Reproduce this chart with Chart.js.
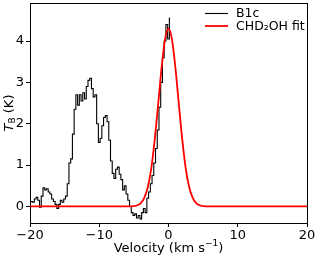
<!DOCTYPE html>
<html>
<head>
<meta charset="utf-8">
<script src="https://cdn.jsdelivr.net/npm/chart.js@4"></script>
<style>
  html, body { margin: 0; padding: 0; background: #fff; }
  #wrap { width: 319px; height: 261px; }
</style>
</head>
<body>
<div id="wrap"><canvas id="spectre"></canvas></div>
<script>
// spectre observé (B1c), pas de 0.25 km/s
const b1cVelocity = [
  -20.00, -19.75, -19.50, -19.25, -19.00, -18.75, -18.50, -18.25, -18.00, -17.75,
  -17.50, -17.25, -17.00, -16.75, -16.50, -16.25, -16.00, -15.75, -15.50, -15.25,
  -15.00, -14.75, -14.50, -14.25, -14.00, -13.75, -13.50, -13.25, -13.00, -12.75,
  -12.50, -12.25, -12.00, -11.75, -11.50, -11.25, -11.00, -10.75, -10.50, -10.25,
  -10.00, -9.75, -9.50, -9.25, -9.00, -8.75, -8.50, -8.25, -8.00, -7.75,
  -7.50, -7.25, -7.00, -6.75, -6.50, -6.25, -6.00, -5.75, -5.50, -5.25,
  -5.00, -4.75, -4.50, -4.25, -4.00, -3.75, -3.50, -3.25, -3.00, -2.75,
  -2.50, -2.25, -2.00, -1.75, -1.50, -1.25, -1.00, -0.75, -0.50, -0.25,
  0.00, 0.25
];
const b1cTemp = [
  0.10, 0.12, 0.10, 0.18, 0.22, 0.15, -0.02, 0.25, 0.45, 0.40,
  0.43, 0.35, 0.30, 0.18, 0.12, 0.05, -0.05, 0.05, 0.15, 0.10,
  0.18, 0.25, 0.55, 1.05, 1.15, 1.75, 2.35, 2.70, 2.45, 2.70,
  2.55, 2.75, 2.60, 2.90, 3.05, 3.10, 2.85, 2.65, 2.70, 2.00,
  1.55, 1.65, 1.95, 2.15, 2.20, 2.05, 1.60, 1.10, 0.80, 0.68,
  0.90, 0.95, 0.78, 0.65, 0.40, 0.50, 0.30, 0.15, 0.00, -0.15,
  -0.22, -0.18, -0.28, -0.22, -0.30, -0.15, -0.05, -0.15, 0.20, 0.35,
  0.55, 0.75, 1.05, 1.40, 1.85, 2.40, 3.00, 3.60, 4.00, 4.40,
  4.05, 4.55
];

// ajustement CHD2OH
const fitVelocity = [-20, -6, -5, -4.5, -4, -3.5, -3, -2.5, -2, -1.5, -1, -0.5, 0,
  0.5, 1, 1.5, 2, 2.5, 3, 3.5, 4, 4.5, 5, 6, 20];
const fitTemp = [0, 0, 0.01, 0.03, 0.08, 0.21, 0.46, 0.91, 1.60, 2.46, 3.35, 4.04, 4.30,
  4.04, 3.35, 2.46, 1.60, 0.91, 0.46, 0.21, 0.08, 0.03, 0.01, 0, 0];

const xTicks = [-20, -10, 0, 10, 20];
const yTicks = [0, 1, 2, 3, 4];
const seriesLabels = ['B1c', 'CHD\u2082OH fit'];

const FONT = 'DejaVu Sans';
const fmt = (v) => String(v).replace('-', '\u2212');

// légende + titres d'axes dessinés à la main
const decorPlugin = {
  id: 'decor',
  afterDraw(chart) {
    const ctx = chart.ctx;
    const area = chart.chartArea;
    ctx.save();
    // légende
    ctx.font = '12.5px ' + FONT;
    ctx.textBaseline = 'middle';
    chart.data.datasets.forEach((ds, i) => {
      const y = 13.5 + i * 12.5;
      ctx.strokeStyle = ds.borderColor;
      ctx.lineWidth = ds.borderWidth;
      ctx.beginPath();
      ctx.moveTo(205, y);
      ctx.lineTo(228, y);
      ctx.stroke();
      ctx.fillStyle = '#000';
      ctx.fillText(ds.label, 236, y + 0.5);
    });
    // titre x
    ctx.textBaseline = 'middle';
    ctx.font = '13px ' + FONT;
    const xc = (area.left + area.right) / 2;
    const main = 'Velocity (km s';
    const wMain = ctx.measureText(main).width;
    ctx.font = '9px ' + FONT;
    const wSup = ctx.measureText('\u22121').width;
    ctx.font = '13px ' + FONT;
    const wEnd = ctx.measureText(')').width;
    let x0 = xc - (wMain + wSup + wEnd) / 2;
    ctx.textAlign = 'left';
    ctx.fillText(main, x0, 249);
    ctx.font = '9px ' + FONT;
    ctx.fillText('\u22121', x0 + wMain, 244);
    ctx.font = '13px ' + FONT;
    ctx.fillText(')', x0 + wMain + wSup, 249);
    // titre y
    ctx.translate(10, (area.top + area.bottom) / 2);
    ctx.rotate(-Math.PI / 2);
    ctx.font = 'italic 13px ' + FONT;
    const wT = ctx.measureText('T').width;
    ctx.font = '9px ' + FONT;
    const wB = ctx.measureText('B').width;
    ctx.font = '13px ' + FONT;
    const wK = ctx.measureText(' (K)').width;
    x0 = -(wT + wB + wK) / 2;
    ctx.font = 'italic 13px ' + FONT;
    ctx.fillText('T', x0, 0);
    ctx.font = '9px ' + FONT;
    ctx.fillText('B', x0 + wT, 3);
    ctx.font = '13px ' + FONT;
    ctx.fillText(' (K)', x0 + wT + wB, 0);
    ctx.restore();
  }
};

const ctx = document.getElementById('spectre').getContext('2d');
const chart = new Chart(ctx, {
  type: 'line',
  data: {
    datasets: [{
      label: seriesLabels[0],
      data: b1cVelocity.map((v, i) => ({ x: v, y: b1cTemp[i] })),
      borderColor: '#000000',
      borderWidth: 1.1,
      stepped: 'middle',
      pointRadius: 0,
      fill: false,
      order: 1,
    }, {
      label: seriesLabels[1],
      data: fitVelocity.map((v, i) => ({ x: v, y: fitTemp[i] })),
      borderColor: '#ff0000',
      borderWidth: 1.8,
      cubicInterpolationMode: 'monotone',
      pointRadius: 0,
      fill: false,
      order: 0,
    }]
  },
  options: {
    responsive: true,
    maintainAspectRatio: false,
    animation: false,
    events: [],
    layout: { padding: { top: 3, right: 12, left: 0, bottom: 0 } },
    plugins: {
      legend: { display: false },
      tooltip: { enabled: false },
    },
    scales: {
      x: {
        type: 'linear',
        min: -20,
        max: 20,
        afterBuildTicks: (axis) => { axis.ticks = xTicks.map((v) => ({ value: v })); },
        afterFit: (axis) => { axis.height = 38; axis.paddingLeft = 0; axis.paddingRight = 0; },
        ticks: {
          color: '#000',
          font: { family: FONT, size: 13 },
          padding: 1,
          maxRotation: 0,
          callback: fmt,
        },
        grid: { display: true, drawOnChartArea: false, drawTicks: true, tickLength: 4, color: '#000' },
        border: { display: true, color: '#000', width: 1 },
      },
      y: {
        min: -0.4,
        max: 4.92,
        afterBuildTicks: (axis) => { axis.ticks = yTicks.map((v) => ({ value: v })); },
        afterFit: (axis) => { axis.width = 30; axis.paddingTop = 0; axis.paddingBottom = 0; },
        ticks: {
          color: '#000',
          font: { family: FONT, size: 13 },
          padding: 2,
          callback: fmt,
        },
        grid: { display: true, drawOnChartArea: false, drawTicks: true, tickLength: 4, color: '#000' },
        border: { display: true, color: '#000', width: 1 },
      },
      x2: {
        type: 'linear', position: 'top', min: -20, max: 20,
        afterFit: (axis) => { axis.height = 0; axis.paddingLeft = 0; axis.paddingRight = 0; },
        ticks: { display: false },
        grid: { display: false, drawTicks: false },
        border: { display: true, color: '#000', width: 1 },
      },
      y2: {
        position: 'right', min: -0.4, max: 4.92,
        afterFit: (axis) => { axis.width = 0; axis.paddingTop = 0; axis.paddingBottom = 0; },
        ticks: { display: false },
        grid: { display: false, drawTicks: false },
        border: { display: true, color: '#000', width: 1 },
      },
    }
  },
  plugins: [decorPlugin]
});
</script>
</body>
</html>
